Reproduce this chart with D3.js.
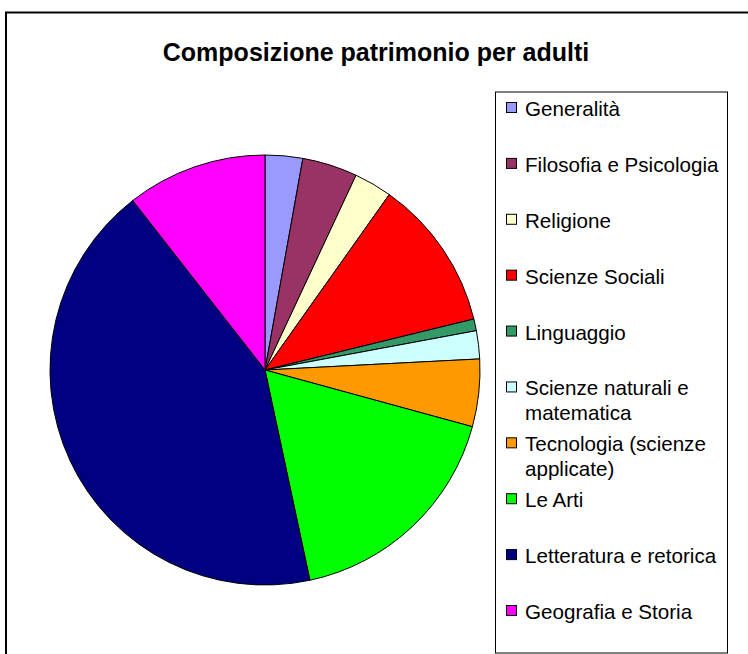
<!DOCTYPE html>
<html lang="it">
<head>
    <meta charset="UTF-8">
    <title>Composizione patrimonio per adulti</title>
    <script type="text/javascript" src="https://cdn.jsdelivr.net/npm/d3@7"></script>
    <style>
        body {
            margin: 0;
            background: white;
        }
        .title {
            font-family: "Liberation Sans", Arial, sans-serif;
            font-weight: bold;
            font-size: 25px;
        }
        .legend-text {
            font-family: "Liberation Sans", Arial, sans-serif;
            font-size: 20.6px;
        }
    </style>
</head>
<body>
    <script type="text/javascript">
        const categories = [
            'Generalità',
            'Filosofia e Psicologia',
            'Religione',
            'Scienze Sociali',
            'Linguaggio',
            'Scienze naturali e matematica',
            'Tecnologia (scienze applicate)',
            'Le Arti',
            'Letteratura e retorica',
            'Geografia e Storia'
        ];
        // share of the collection, in percent
        const shares = [2.82, 4.14, 2.85, 11.38, 0.88, 2.11, 5.07, 17.4, 42.8, 10.55];
        const colors = ['#9999FF', '#993366', '#FFFFCC', '#FF0000', '#339966',
                        '#CCFFFF', '#FF9900', '#00FF00', '#000080', '#FF00FF'];

        const w = 748;
        const h = 654;
        const cx = 265;
        const cy = 370;
        const radius = 215;

        const dataset = categories.map((c, i) => ({
            'category': c,
            'share': shares[i],
            'color': colors[i]
        }));

        const svg = d3.select("body")
            .append("svg")
            .attr("width", w)
            .attr("height", h);

        // outer frame (runs off the bottom and right of the picture)
        svg.append("path")
            .attr("d", "M6," + (h + 5) + " V12.5 H" + (w + 5))
            .attr("fill", "none")
            .attr("stroke", "black")
            .attr("stroke-width", 2);

        svg.append("text")
            .attr("x", 376)
            .attr("y", 61)
            .attr("text-anchor", "middle")
            .classed("title", true)
            .text("Composizione patrimonio per adulti");

        // pie
        const pie = d3.pie()
            .sort(null)
            .value(d => d.share);
        const arc = d3.arc()
            .innerRadius(0)
            .outerRadius(radius);

        svg.append("g")
            .attr("transform", "translate(" + cx + "," + cy + ")")
            .selectAll("path")
            .data(pie(dataset))
            .enter()
            .append("path")
            .attr("d", arc)
            .attr("fill", d => d.data.color)
            .attr("stroke", "black")
            .attr("stroke-width", 1)
            .attr("stroke-linejoin", "round");

        // legend
        const legendBox = {x: 495.5, y: 92, w: 232, h: 561};
        svg.append("rect")
            .attr("x", legendBox.x)
            .attr("y", legendBox.y)
            .attr("width", legendBox.w)
            .attr("height", legendBox.h)
            .attr("fill", "white")
            .attr("stroke", "black")
            .attr("stroke-width", 1);

        const yLegend = d3.scalePoint()
            .domain(categories)
            .range([108, 611]);
        const textX = 525;
        const maxTextWidth = legendBox.x + legendBox.w - textX - 4;

        const items = svg.selectAll(".legend-item")
            .data(dataset)
            .enter()
            .append("g")
            .attr("class", "legend-item")
            .attr("transform", d => "translate(0," + yLegend(d.category) + ")");

        items.append("rect")
            .attr("x", 506.5)
            .attr("y", -5.5)
            .attr("width", 10)
            .attr("height", 10)
            .attr("fill", d => d.color)
            .attr("stroke", "black")
            .attr("stroke-width", 1);

        items.append("text")
            .attr("class", "legend-text")
            .attr("x", textX)
            .attr("y", 0)
            .attr("dominant-baseline", "central")
            .each(function (d) {
                wrapText(d3.select(this), d.category, maxTextWidth, 25);
            });

        function wrapText(textSel, label, maxWidth, lineHeight) {
            const words = label.split(" ");
            let line = [];
            let tspan = textSel.append("tspan").attr("x", textX).attr("dy", 0);
            words.forEach(word => {
                line.push(word);
                tspan.text(line.join(" "));
                if (tspan.node().getComputedTextLength() > maxWidth && line.length > 1) {
                    line.pop();
                    tspan.text(line.join(" "));
                    line = [word];
                    tspan = textSel.append("tspan")
                        .attr("x", textX)
                        .attr("dy", lineHeight)
                        .text(word);
                }
            });
        }
    </script>
</body>
</html>
